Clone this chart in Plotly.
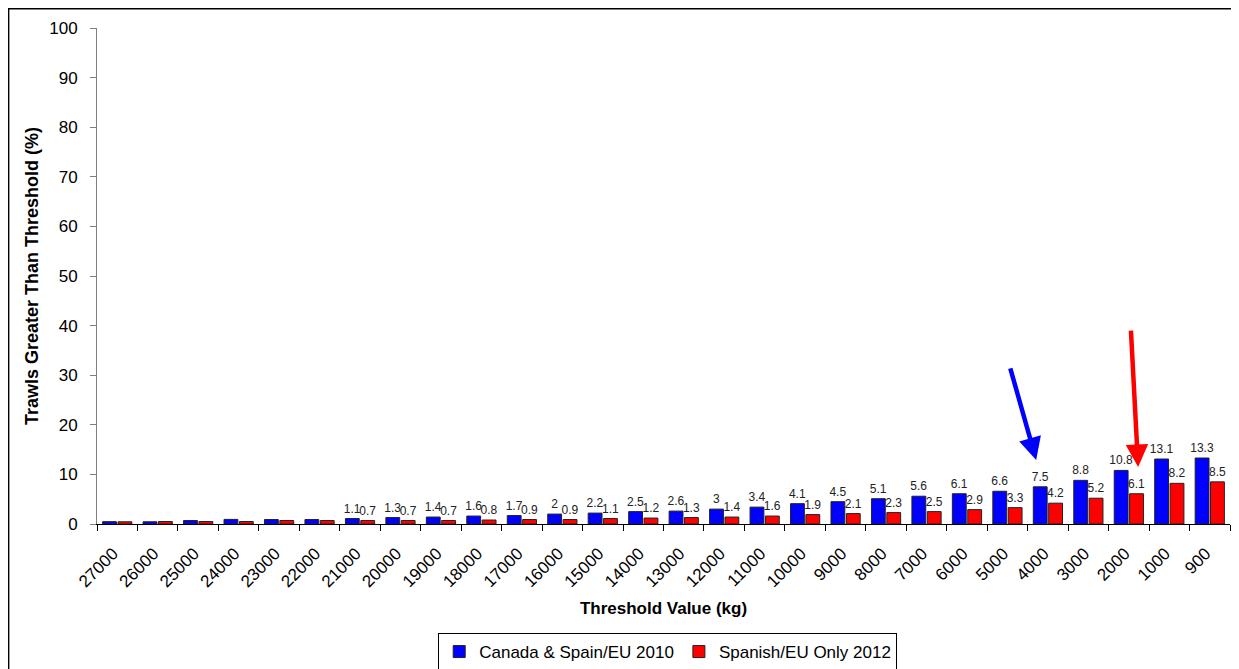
import plotly.graph_objects as go

categories = ["27000", "26000", "25000", "24000", "23000", "22000", "21000", "20000",
              "19000", "18000", "17000", "16000", "15000", "14000", "13000", "12000",
              "11000", "10000", "9000", "8000", "7000", "6000", "5000", "4000",
              "3000", "2000", "1000", "900"]
canada_2010 = [0.47, 0.45, 0.7, 0.93, 0.9, 0.9, 1.1, 1.3, 1.4, 1.6, 1.7, 2, 2.2, 2.5,
               2.6, 3, 3.4, 4.1, 4.5, 5.1, 5.6, 6.1, 6.6, 7.5, 8.8, 10.8, 13.1, 13.3]
spanish_2012 = [0.45, 0.5, 0.5, 0.5, 0.7, 0.7, 0.7, 0.7, 0.7, 0.8, 0.9, 0.9, 1.1, 1.2,
                1.3, 1.4, 1.6, 1.9, 2.1, 2.3, 2.5, 2.9, 3.3, 4.2, 5.2, 6.1, 8.2, 8.5]
canada_labels = [""] * 6 + ["1.1", "1.3", "1.4", "1.6", "1.7", "2", "2.2", "2.5", "2.6", "3",
                            "3.4", "4.1", "4.5", "5.1", "5.6", "6.1", "6.6", "7.5", "8.8",
                            "10.8", "13.1", "13.3"]
spanish_labels = [""] * 6 + ["0.7", "0.7", "0.7", "0.8", "0.9", "0.9", "1.1", "1.2", "1.3",
                             "1.4", "1.6", "1.9", "2.1", "2.3", "2.5", "2.9", "3.3", "4.2",
                             "5.2", "6.1", "8.2", "8.5"]
y_ticks = [0, 10, 20, 30, 40, 50, 60, 70, 80, 90, 100]

FONT = "Liberation Sans, Arial, sans-serif"

fig = go.Figure()
fig.add_trace(go.Bar(
    x=categories, y=canada_2010, name="Canada & Spain/EU 2010",
    marker=dict(color="#0000FF", line=dict(color="#222222", width=1)),
    text=canada_labels, textposition="outside", constraintext="none", cliponaxis=False,
    textfont=dict(family=FONT, size=12, color="#222222"),
))
fig.add_trace(go.Bar(
    x=categories, y=spanish_2012, name="Spanish/EU Only 2012",
    marker=dict(color="#FF0000", line=dict(color="#222222", width=1)),
    text=spanish_labels, textposition="outside", constraintext="none", cliponaxis=False,
    textfont=dict(family=FONT, size=12, color="#222222"),
))

# arrows
fig.add_annotation(x=22.71, y=12.9, ax=22.06, ay=31.7, xref="x", yref="y", axref="x", ayref="y",
                   text="", showarrow=True, arrowhead=2, arrowsize=1.0, arrowwidth=4.5,
                   arrowcolor="#0000FF", standoff=0)
fig.add_annotation(x=25.23, y=11.5, ax=25.05, ay=39.3, xref="x", yref="y", axref="x", ayref="y",
                   text="", showarrow=True, arrowhead=2, arrowsize=1.0, arrowwidth=4.5,
                   arrowcolor="#FF0000", standoff=0)

# outer border
fig.add_shape(type="rect", xref="paper", yref="paper", x0=-0.078, x1=1.05, y0=-0.35, y1=1.039,
              line=dict(color="black", width=1.5), fillcolor="rgba(0,0,0,0)", layer="below")

fig.update_layout(
    width=1231, height=661,
    margin=dict(l=89, r=9, t=20, b=145, autoexpand=False),
    paper_bgcolor="white", plot_bgcolor="white",
    barmode="group", bargap=0.24, bargroupgap=0.1,
    font=dict(family=FONT, color="black"),
    showlegend=True,
    legend=dict(orientation="h", x=0.5037, xanchor="center", y=-0.2198, yanchor="top",
                bordercolor="black", borderwidth=1, font=dict(size=17, family=FONT),
                itemwidth=30, tracegroupgap=0),
    xaxis=dict(
        type="category", tickangle=-45, tickson="boundaries", ticks="outside", ticklen=6,
        tickcolor="black", showline=True, linecolor="black", linewidth=1,
        tickfont=dict(size=17, family=FONT), showgrid=False, automargin=False,
        ticklabelstandoff=12, ticklabelshift=-4,
        title=dict(text="<b>Threshold Value (kg)</b>", font=dict(size=17, family=FONT), standoff=11),
    ),
    yaxis=dict(
        range=[0, 100], tickvals=y_ticks, ticks="outside", ticklen=6, tickcolor="#808080",
        showline=True, linecolor="#808080", linewidth=1, showgrid=False, zeroline=False,
        tickfont=dict(size=17, family=FONT), automargin=False, ticklabelstandoff=9,
        title=dict(text="<b>Trawls Greater Than Threshold (%)</b>", font=dict(size=18, family=FONT),
                   standoff=5),
    ),
)

fig.write_html("out.html")
